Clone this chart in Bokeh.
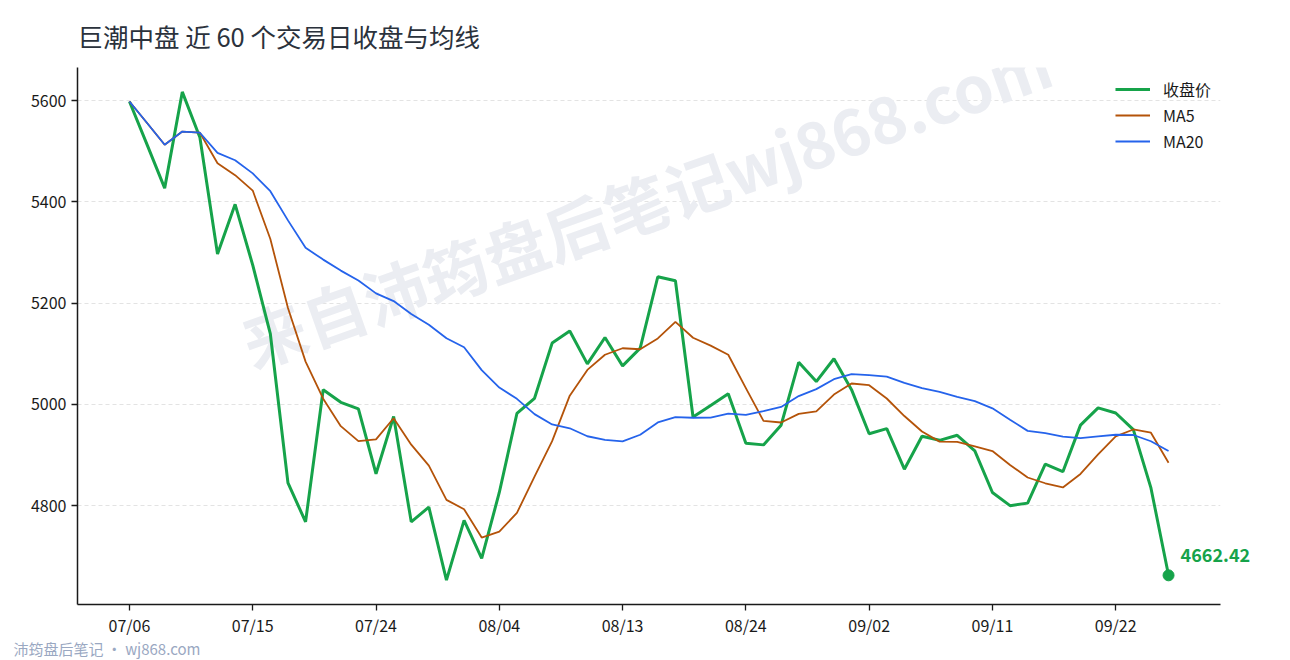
from bokeh.plotting import figure
from bokeh.models import ColumnDataSource, Label, FixedTicker, Range1d
from bokeh.embed import file_html
from bokeh.resources import INLINE

import pandas as pd

FONT = "Noto Sans CJK SC"
GREEN = "#16a34a"
ORANGE = "#b45309"
BLUE = "#2563eb"

title = "巨潮中盘 近 60 个交易日收盘与均线"
watermark = "来自沛筠盘后笔记wj868.com"
footer = "沛筠盘后笔记 · wj868.com"

dates = ["07/06", "07/07", "07/08", "07/09", "07/10", "07/13", "07/14", "07/15",
         "07/16", "07/17", "07/20", "07/21", "07/22", "07/23", "07/24", "07/27",
         "07/28", "07/29", "07/30", "07/31", "08/03", "08/04", "08/05", "08/06",
         "08/07", "08/10", "08/11", "08/12", "08/13", "08/14", "08/17", "08/18",
         "08/19", "08/20", "08/21", "08/24", "08/25", "08/26", "08/27", "08/28",
         "08/31", "09/01", "09/02", "09/03", "09/04", "09/07", "09/08", "09/09",
         "09/10", "09/11", "09/14", "09/15", "09/16", "09/17", "09/18", "09/21",
         "09/22", "09/23", "09/24", "09/25"]

closes = [5598, 5513, 5427, 5617, 5527, 5297, 5395, 5275, 5139, 4845,
          4768, 5029, 5004, 4991, 4863, 4976, 4768, 4797, 4653, 4771,
          4696, 4826, 4982, 5012, 5121, 5145, 5080, 5132, 5076, 5111,
          5252, 5244, 4975, 4998, 5021, 4923, 4920, 4959, 5083, 5045,
          5090, 5029, 4942, 4952, 4872, 4937, 4929, 4939, 4908, 4826,
          4800, 4805, 4882, 4867, 4959, 4993, 4983, 4950, 4835, 4662.42]

tick_idx = [0, 7, 14, 21, 28, 35, 42, 49, 56]
y_ticks = [4800, 5000, 5200, 5400, 5600]

s = pd.Series(closes)
df = pd.DataFrame({"x": range(len(closes)),
                   "close": s,
                   "ma5": s.rolling(5, min_periods=1).mean(),
                   "ma20": s.rolling(20, min_periods=1).mean()})
src = ColumnDataSource(df)

n = len(closes)
xpad = 0.05 * (n - 1)
ypad = 0.05 * (max(closes) - min(closes))

p = figure(width=1290, height=660, output_backend="svg", toolbar_location=None,
           x_range=Range1d(-xpad, n - 1 + xpad),
           y_range=Range1d(min(closes) - ypad, max(closes) + ypad),
           min_border_left=77, min_border_right=68,
           min_border_top=65, min_border_bottom=56)
p.outline_line_color = None

p.title.text = title
p.title.align = "left"
p.title.offset = 0
p.title.standoff = 28
p.title.text_font = FONT
p.title.text_font_size = "25.5px"
p.title.text_font_style = "normal"
p.title.text_color = "#2b323c"

# footer credit under the x axis labels
p.add_layout(Label(x=-64, y=12, x_units="screen", y_units="screen",
                   text=footer, text_baseline="middle", text_font=FONT,
                   text_font_size="15px", text_color="#9aa8c2"), "below")

# faint watermark behind the grid
wm = Label(x=568, y=404, x_units="screen", y_units="screen", text=watermark,
           angle=19.5, angle_units="deg", text_align="center",
           text_baseline="middle", text_font=FONT, text_font_style="bold",
           text_font_size="64px", text_color="#ebedf2", level="underlay")
p.add_layout(wm)

p.line("x", "close", source=src, color=GREEN, line_width=3,
       legend_label="收盘价")
p.line("x", "ma5", source=src, color=ORANGE, line_width=1.8,
       legend_label="MA5")
p.line("x", "ma20", source=src, color=BLUE, line_width=1.8,
       legend_label="MA20")
p.scatter([n - 1], [closes[-1]], size=11, color=GREEN)

# last close label sits past the frame edge, so it goes in the right panel
p.add_layout(Label(x=n - 1, y=closes[-1], text=f"{closes[-1]:.2f}",
                   x_offset=12, y_offset=20, text_baseline="middle",
                   text_font=FONT, text_font_style="bold",
                   text_font_size="18px", text_color=GREEN), "right")

p.xgrid.grid_line_color = None
p.ygrid.grid_line_color = "#dcdcdc"
p.ygrid.grid_line_dash = "4 3"
p.ygrid.grid_line_width = 0.8
p.ygrid.ticker = FixedTicker(ticks=y_ticks)

p.xaxis.ticker = FixedTicker(ticks=tick_idx)
p.xaxis.major_label_overrides = {i: dates[i] for i in tick_idx}
p.yaxis.ticker = FixedTicker(ticks=y_ticks)

for ax in (p.xaxis, p.yaxis):
    ax.axis_line_color = "#1a1a1a"
    ax.axis_line_width = 1.5
    ax.major_tick_line_color = "#1a1a1a"
    ax.major_tick_line_width = 1.3
    ax.major_tick_out = 6
    ax.major_tick_in = 0
    ax.minor_tick_line_color = None
    ax.major_label_text_font = FONT
    ax.major_label_text_font_size = "16px"
    ax.major_label_text_color = "#1a1a1a"
    ax.major_label_standoff = 5
p.xaxis.major_label_standoff = 2

p.legend.location = "top_right"
p.legend.border_line_color = None
p.legend.background_fill_alpha = 0
p.legend.margin = 9
p.legend.padding = 5
p.legend.spacing = 0
p.legend.glyph_width = 35
p.legend.glyph_height = 26
p.legend.label_height = 26
p.legend.label_standoff = 13
p.legend.label_text_font = FONT
p.legend.label_text_font_size = "16px"
p.legend.label_text_color = "#1a1a1a"

open("out.html", "w").write(file_html(p, INLINE))
